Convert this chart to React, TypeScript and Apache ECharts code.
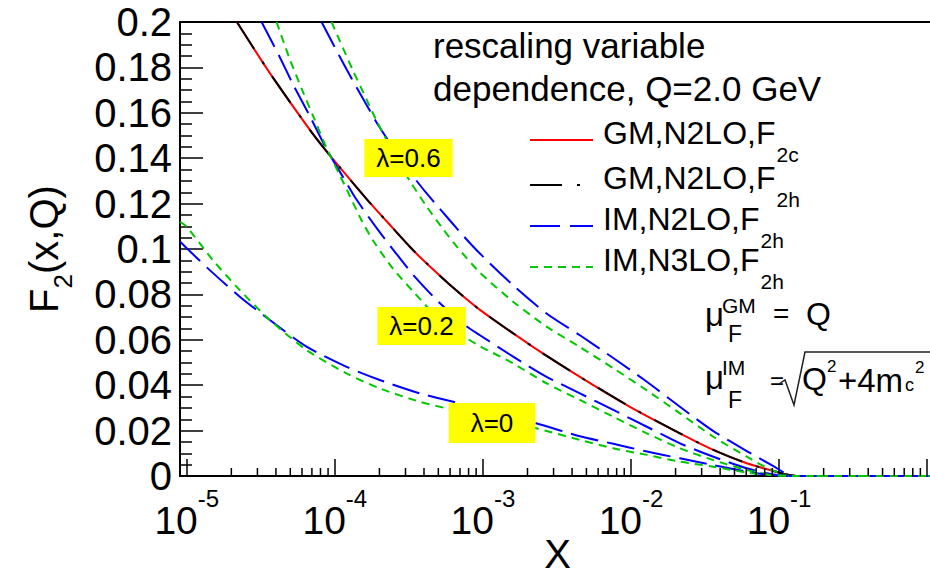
import React, { useEffect, useRef } from 'react';
import * as echarts from 'echarts';

const FONT = '"Liberation Sans", Arial, Helvetica, sans-serif';

// axis ranges
const xMin = 9e-6;
const xMax = 1.13;
const yMin = 0;
const yMax = 0.2;
const yStep = 0.02;
const xLabelExponents = [-5, -4, -3, -2, -1];
const minorDecades = [-5, -4, -3, -2, -1, 0];
const minorMultipliers = [2, 3, 4, 5, 6, 7, 8, 9];

// GM, N2LO, F2c (red solid)
const gmF2cX = [2.18e-5, 3.64e-5, 6.78e-5, 8.55e-5, 1.08e-4, 1.64e-4, 2.48e-4, 3.21e-4, 3.75e-4, 6.31e-4, 9.55e-4, 2.19e-3, 4.52e-3, 9.84e-3, 2.14e-2, 3.6e-2, 6.05e-2, 8.7e-2, 0.11, 0.13];
const gmF2cY = [0.2, 0.1775, 0.1525, 0.144, 0.136, 0.122, 0.109, 0.101, 0.0965, 0.0829, 0.0732, 0.0568, 0.0437, 0.0305, 0.0188, 0.0115, 0.0056, 0.0026, 0.0008, 0];
// GM, N2LO, F2h (black dash-dot)
const gmF2hX = [2.18e-5, 3.64e-5, 6.78e-5, 8.55e-5, 1.08e-4, 1.64e-4, 2.48e-4, 3.21e-4, 3.75e-4, 6.31e-4, 9.55e-4, 2.19e-3, 4.52e-3, 9.84e-3, 2.14e-2, 3.6e-2, 6.05e-2, 8.7e-2, 0.11, 0.13];
const gmF2hY = [0.2, 0.1775, 0.1525, 0.144, 0.136, 0.122, 0.109, 0.101, 0.0965, 0.0829, 0.0732, 0.0568, 0.0437, 0.0305, 0.0188, 0.0115, 0.0056, 0.0026, 0.0008, 0];

// IM, N2LO, F2h (blue) and IM, N3LO, F2h (green), lambda = 0.6
const imN2lo06X = [8.13e-5, 1.14e-4, 1.48e-4, 2.01e-4, 3.21e-4, 4.17e-4, 8.61e-4, 1.6e-3, 2.69e-3, 4.52e-3, 7.59e-3, 1.28e-2, 2.14e-2, 3.6e-2, 6.05e-2, 9.16e-2, 0.115, 0.13, 0.3, 1.13];
const imN2lo06Y = [0.2, 0.1818, 0.1685, 0.1535, 0.134, 0.1245, 0.101, 0.084, 0.0716, 0.062, 0.052, 0.0415, 0.0305, 0.0198, 0.011, 0.0043, 0.0006, 0, 0, 0];
const imN3lo06X = [9.5e-5, 1.08e-4, 1.33e-4, 1.64e-4, 1.91e-4, 2.48e-4, 3.21e-4, 4.17e-4, 5.4e-4, 6.64e-4, 9.55e-4, 1.6e-3, 2.69e-3, 4.52e-3, 7.59e-3, 1.28e-2, 2.14e-2, 3.6e-2, 6.05e-2, 8.7e-2, 0.12, 0.3, 1.13];
const imN3lo06Y = [0.2, 0.1917, 0.1784, 0.1658, 0.1566, 0.1426, 0.13, 0.1187, 0.1086, 0.1012, 0.0896, 0.0768, 0.0658, 0.0568, 0.0475, 0.0377, 0.0276, 0.0173, 0.0085, 0.003, 0, 0, 0];

// lambda = 0.2
const imN2lo02X = [3.2e-5, 4.25e-5, 5.22e-5, 6.78e-5, 8.79e-5, 1.14e-4, 1.4e-4, 1.95e-4, 2.51e-4, 3.39e-4, 5.0e-4, 7.55e-4, 9.55e-4, 1.6e-3, 2.69e-3, 4.52e-3, 7.59e-3, 1.28e-2, 2.14e-2, 3.6e-2, 6.05e-2, 8.9e-2, 0.12, 0.3, 1.13];
const imN2lo02Y = [0.2, 0.1845, 0.1725, 0.1585, 0.144, 0.1315, 0.1218, 0.1085, 0.0992, 0.0885, 0.0768, 0.0665, 0.062, 0.0526, 0.0437, 0.0364, 0.0291, 0.0217, 0.0144, 0.0085, 0.0034, 0.0008, 0, 0, 0];
const imN3lo02X = [4.04e-5, 4.97e-5, 6.11e-5, 7.14e-5, 8.79e-5, 1.08e-4, 1.26e-4, 1.51e-4, 1.82e-4, 2.48e-4, 3.39e-4, 5.0e-4, 7.55e-4, 9.55e-4, 1.6e-3, 2.69e-3, 4.52e-3, 7.59e-3, 1.28e-2, 2.14e-2, 3.6e-2, 6.05e-2, 8.9e-2, 0.12, 0.3, 1.13];
const imN3lo02Y = [0.2, 0.1835, 0.169, 0.1585, 0.1445, 0.1325, 0.1235, 0.1128, 0.1035, 0.0912, 0.0812, 0.0695, 0.0612, 0.0572, 0.0496, 0.0408, 0.0335, 0.0261, 0.0188, 0.0122, 0.007, 0.0026, 0.0006, 0, 0, 0];

// lambda = 0
const imN2lo0X = [9e-6, 1e-5, 1.43e-5, 2.28e-5, 3.64e-5, 6.44e-5, 1.2e-4, 2.01e-4, 3.75e-4, 6.31e-4, 2.29e-3, 4.52e-3, 7.59e-3, 1.28e-2, 2.14e-2, 3.6e-2, 6.05e-2, 8.7e-2, 0.12, 0.3, 1.13];
const imN2lo0Y = [0.1033, 0.1003, 0.0907, 0.079, 0.0687, 0.057, 0.0481, 0.0423, 0.0364, 0.0327, 0.0232, 0.0175, 0.0142, 0.0108, 0.0078, 0.0048, 0.0019, 0.0005, 0, 0, 0];
const imN3lo0X = [9e-6, 1e-5, 1.5e-5, 2.28e-5, 3.64e-5, 6.44e-5, 1.2e-4, 2.01e-4, 3.75e-4, 5.69e-4, 2.29e-3, 4.52e-3, 7.59e-3, 1.28e-2, 2.14e-2, 3.6e-2, 6.05e-2, 8.7e-2, 0.12, 0.3, 1.13];
const imN3lo0Y = [0.112, 0.1098, 0.0951, 0.0819, 0.0687, 0.0555, 0.0452, 0.0386, 0.0327, 0.0298, 0.021, 0.0159, 0.0122, 0.0093, 0.0063, 0.0041, 0.0015, 0.0004, 0, 0, 0];

const RED = '#ff0000';
const BLACK = '#000000';
const BLUE = '#0000ff';
const GREEN = '#00c800';
const DASH_DOT = [32, 15, 3, 15];
const LONG_DASH = [28, 9];
const SHORT_DASH = [8, 6];

const curves = [
  { name: 'GM,N2LO,F2c', x: gmF2cX, y: gmF2cY, color: RED, dash: 'solid' as any },
  { name: 'GM,N2LO,F2h', x: gmF2hX, y: gmF2hY, color: BLACK, dash: DASH_DOT },
  { name: 'IM,N2LO,F2h λ=0.6', x: imN2lo06X, y: imN2lo06Y, color: BLUE, dash: LONG_DASH },
  { name: 'IM,N3LO,F2h λ=0.6', x: imN3lo06X, y: imN3lo06Y, color: GREEN, dash: SHORT_DASH },
  { name: 'IM,N2LO,F2h λ=0.2', x: imN2lo02X, y: imN2lo02Y, color: BLUE, dash: LONG_DASH },
  { name: 'IM,N3LO,F2h λ=0.2', x: imN3lo02X, y: imN3lo02Y, color: GREEN, dash: SHORT_DASH },
  { name: 'IM,N2LO,F2h λ=0', x: imN2lo0X, y: imN2lo0Y, color: BLUE, dash: LONG_DASH },
  { name: 'IM,N3LO,F2h λ=0', x: imN3lo0X, y: imN3lo0Y, color: GREEN, dash: SHORT_DASH },
];

const legendRows = [
  { main: 'GM,N2LO,F', sub: '2c', color: RED, dash: null as number[] | null, y: 135 },
  { main: 'GM,N2LO,F', sub: '2h', color: BLACK, dash: DASH_DOT, y: 180 },
  { main: 'IM,N2LO,F', sub: '2h', color: BLUE, dash: [30, 10], y: 221 },
  { main: 'IM,N3LO,F', sub: '2h', color: GREEN, dash: SHORT_DASH, y: 262 },
];

const lambdaLabels = [
  { text: 'λ=0.6', cx: 408.5, cy: 158, pad: [6, 12, 6, 12] },
  { text: 'λ=0.2', cx: 421.5, cy: 326, pad: [6, 12, 6, 12] },
  { text: 'λ=0', cx: 492, cy: 423, pad: [7, 22, 7, 22] },
];

function buildOption(): any {
  const minorTicks: number[][] = [];
  minorDecades.forEach((d) => minorMultipliers.forEach((m) => minorTicks.push([m * Math.pow(10, d), 0])));

  const series: any[] = curves.map((c) => ({
    type: 'line',
    name: c.name,
    data: c.x.map((xv, i) => [xv, c.y[i]]),
    showSymbol: false,
    symbol: 'none',
    smooth: 0.25,
    clip: true,
    lineStyle: { color: c.color, width: 2, type: c.dash, join: 'round' },
    z: 3,
  }));

  series.push({
    type: 'custom',
    name: 'minor ticks',
    data: minorTicks,
    clip: true,
    silent: true,
    z: 4,
    renderItem: (_p: any, api: any) => {
      const pt = api.coord([api.value(0), api.value(1)]);
      return {
        type: 'line',
        shape: { x1: pt[0], y1: pt[1], x2: pt[0], y2: pt[1] - 8 },
        style: { stroke: '#000', lineWidth: 1.5 },
      };
    },
  });

  const txt = (text: string, x: number, y: number, size: number, extra: any = {}) => ({
    type: 'text',
    x,
    y,
    z: 10,
    style: { text, fontSize: size, fontFamily: FONT, fill: '#000', align: 'left', verticalAlign: 'middle', ...extra },
  });

  const graphics: any[] = [];
  graphics.push(txt('rescaling variable', 433, 45, 35));
  graphics.push(txt('dependence, Q=2.0 GeV', 433, 88, 35));

  legendRows.forEach((r) => {
    graphics.push({
      type: 'line',
      z: 10,
      shape: { x1: 530, y1: r.y + 5, x2: 593, y2: r.y + 5 },
      style: { stroke: r.color, lineWidth: 2, lineDash: r.dash || undefined },
    });
    graphics.push({
      type: 'text',
      x: 603,
      y: r.y - 18,
      z: 10,
      style: {
        text: `{m|${r.main}}{s|${r.sub}}`,
        align: 'left',
        verticalAlign: 'top',
        rich: {
          m: { fontSize: 32, fontFamily: FONT, fill: '#000', lineHeight: 36, verticalAlign: 'top' },
          s: { fontSize: 21, fontFamily: FONT, fill: '#000', lineHeight: 21, verticalAlign: 'top', padding: [27, 0, 0, 1] },
        },
      },
    });
  });

  lambdaLabels.forEach((l) => {
    graphics.push({
      type: 'text',
      x: l.cx,
      y: l.cy,
      z: 10,
      style: {
        text: l.text,
        fontSize: 26,
        lineHeight: 26,
        fontFamily: FONT,
        fill: '#000',
        align: 'center',
        verticalAlign: 'middle',
        backgroundColor: '#ffff00',
        padding: l.pad,
      },
    });
  });

  // mu_F^GM = Q
  graphics.push(txt('μ', 705, 314, 33));
  graphics.push(txt('GM', 722, 305, 21));
  graphics.push(txt('F', 728, 334, 23));
  graphics.push(txt('=', 773, 313, 28));
  graphics.push(txt('Q', 806, 314, 32));
  // mu_F^IM = sqrt(Q^2 + 4 m_c^2)
  graphics.push(txt('μ', 705, 377, 33));
  graphics.push(txt('IM', 722, 367, 21));
  graphics.push(txt('F', 728, 400, 23));
  graphics.push(txt('=', 770, 380, 24));
  graphics.push({
    type: 'polyline',
    z: 10,
    shape: { points: [[779, 384], [785, 380], [794, 405], [805, 352], [932, 352]] },
    style: { stroke: '#222', lineWidth: 1.5, fill: null },
  });
  graphics.push(txt('Q', 802, 379, 32));
  graphics.push(txt('2', 827, 366, 17));
  graphics.push(txt('+4m', 838, 380, 33));
  graphics.push(txt('c', 905, 385, 18));
  graphics.push(txt('2', 915, 367, 17));

  return {
    animation: false,
    backgroundColor: '#ffffff',
    grid: {
      left: 180,
      top: 22,
      width: 755,
      height: 454,
      containLabel: false,
      outerBoundsMode: 'none',
      show: true,
      borderColor: '#000',
      borderWidth: 2,
      backgroundColor: 'transparent',
    },
    xAxis: {
      type: 'log',
      logBase: 10,
      min: xMin,
      max: xMax,
      splitNumber: 5,
      name: 'X',
      nameLocation: 'middle',
      nameGap: 58,
      nameMoveOverlap: false,
      nameTextStyle: { fontSize: 40, lineHeight: 40, fontFamily: FONT, color: '#000' },
      axisLine: { show: true, lineStyle: { color: '#000', width: 2 } },
      axisTick: { show: true, inside: true, length: 17, lineStyle: { color: '#000', width: 1.5 } },
      splitLine: { show: false },
      axisLabel: {
        show: true,
        margin: 10,
        showMinLabel: true,
        showMaxLabel: true,
        hideOverlap: false,
        formatter: (v: number) => {
          const e = Math.log10(v);
          const r = Math.round(e);
          if (Math.abs(e - r) > 1e-6 || xLabelExponents.indexOf(r) < 0) return '';
          return `{b|10}{s|${r}}`;
        },
        rich: {
          b: { fontSize: 39, fontFamily: FONT, color: '#000', lineHeight: 54, verticalAlign: 'bottom' },
          s: { fontSize: 24, fontFamily: FONT, color: '#000', lineHeight: 22, verticalAlign: 'top', padding: [0, 0, 32, 0] },
        },
      },
    },
    yAxis: {
      type: 'value',
      min: yMin,
      max: yMax,
      interval: yStep,
      name: '{a|F}{s|2}{a|(x,Q)}',
      nameLocation: 'middle',
      nameRotate: 90,
      nameGap: 112,
      nameMoveOverlap: false,
      nameTextStyle: {
        rich: {
          a: { fontSize: 40, fontFamily: FONT, color: '#000', lineHeight: 44, verticalAlign: 'top' },
          s: { fontSize: 26, fontFamily: FONT, color: '#000', lineHeight: 26, verticalAlign: 'top', padding: [26, 0, 0, 0] },
        },
      },
      axisLine: { show: true, lineStyle: { color: '#000', width: 2 } },
      axisTick: { show: true, inside: true, length: 23, lineStyle: { color: '#000', width: 1.5 } },
      minorTick: { show: true, splitNumber: 4, length: 12, lineStyle: { color: '#000', width: 1.5 } },
      splitLine: { show: false },
      axisLabel: { fontSize: 40, fontFamily: FONT, color: '#000', margin: 8 },
    },
    series,
    graphic: graphics,
  };
}

export default function App() {
  const ref = useRef<HTMLDivElement>(null);
  useEffect(() => {
    if (!ref.current) return;
    const chart = echarts.init(ref.current, null, { renderer: 'svg' });
    chart.setOption(buildOption());
    return () => chart.dispose();
  }, []);
  return (
    <div
      ref={ref}
      style={{ position: 'fixed', left: 0, top: 0, width: 930, height: 577, background: '#fff' }}
    />
  );
}
